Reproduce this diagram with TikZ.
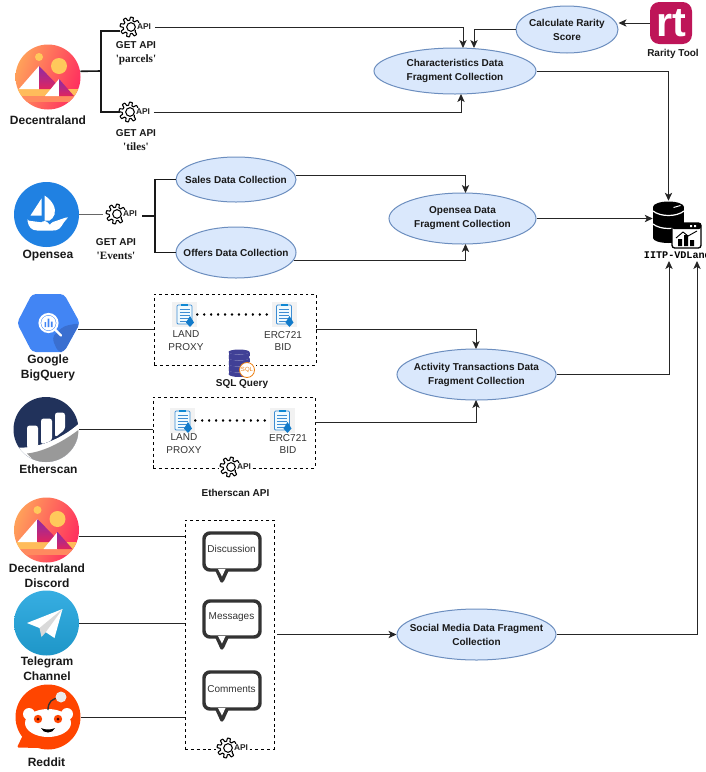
\documentclass[tikz,border=0pt]{standalone}
\usepackage{fontspec}
\setmainfont{Liberation Sans}
\newfontfamily\serifb{Liberation Serif}[Scale=1.12]
\newfontfamily\monob{Liberation Mono}
\usetikzlibrary{shapes.geometric,arrows.meta,calc}
\definecolor{ellfill}{HTML}{DAE8FC}
\definecolor{ellline}{HTML}{6C8EBF}
\definecolor{navy}{HTML}{21325B}
\definecolor{rtred}{HTML}{BE1558}
\definecolor{redditor}{HTML}{FF4500}
\definecolor{osblue}{HTML}{2081E2}
\definecolor{bqblue}{HTML}{4285F4}
\definecolor{bqdark}{HTML}{3A6FD0}
\definecolor{dcA}{HTML}{FFA25A}
\definecolor{dcB}{HTML}{FF2D5F}
\definecolor{dcSun}{HTML}{FFC95B}
\definecolor{dcBand}{HTML}{FFBC5B}
\definecolor{dcBandB}{HTML}{FF8A5F}
\definecolor{dcPa}{HTML}{8B2BA8}
\definecolor{dcPb}{HTML}{E0245E}
\definecolor{tgA}{HTML}{37AEE2}
\definecolor{tgB}{HTML}{1E96C8}
\tikzset{
  x=0.75pt,y=-0.75pt,
  ell/.style n args={3}{ellipse,draw=ellline,fill=ellfill,line width=0.75pt,inner sep=0pt,
    minimum width=#1*0.75pt,minimum height=#2*0.75pt,
    label={[font=\fontsize{7.5}{10.5}\selectfont\bfseries,align=center,inner sep=0pt,text=black!90]center:#3}},
  conn/.style={line width=0.75pt,black!85},
  arr/.style={conn,-{Stealth[length=6pt,width=5.5pt,inset=1.6pt]}},
  brk/.style={line width=1.2pt,black!90},
  lab/.style={font=\fontsize{9}{11}\selectfont\bfseries,align=center,inner sep=0pt,text=black!90},
  slab/.style={font=\fontsize{7.5}{10}\selectfont\bfseries,align=center,inner sep=0pt,text=black!90},
  reg/.style={font=\fontsize{7.5}{9.6}\selectfont,align=center,inner sep=0pt,text=black!80},
  dbox/.style={draw,dashed,line width=0.6pt,dash pattern=on 2.2pt off 2.2pt,inner sep=0pt},
  logo/.style={circle,inner sep=0pt,minimum size=#1*0.75pt},
  bubble/.style={draw=black!80,line width=2.6pt,rounded corners=4.5pt,fill=white},
  dots/.style={line width=1.9pt,line cap=round,dash pattern=on 0.01pt off 5.2pt,black},
  apit/.style={font=\fontsize{6.3}{7}\selectfont\bfseries,inner xsep=0.6pt,inner ysep=0.8pt,text=black!85,fill=white},
}
% gear + "API": #1 name, (#2,#3) gear centre
\newcommand{\gearapi}[3]{%
  \fill[white] (#2-11,#3-11) rectangle (#2+22,#3+11);
  \begin{scope}[shift={(#2,#3)}]
    \draw[line width=0.8pt,line join=round,fill=white] plot[domain=0:360,samples=129,smooth cycle] (\x:{8.3+1.6*tanh(4*sin(8*\x))});
    \draw[line width=0.8pt] (1,0) circle (4.3);
  \end{scope}
  \node[circle,inner sep=0pt,minimum size=15pt] (#1g) at (#2,#3) {};
  \node[apit,anchor=west] (#1) at (#2+6,#3) {API};
}
% document icon: #1 name, (#2,#3) centre
\newcommand{\docicon}[3]{%
  \node[fill=black!5,minimum size=18.75pt,inner sep=0pt] (#1) at (#2,#3) {};
  \begin{scope}[shift={(#2,#3)}]
    \draw[draw=cyan!60!blue!80,fill=cyan!6,line width=0.6pt,rounded corners=0.8pt] (-7.5,-9.5) rectangle (7.5,9.5);
    \fill[cyan!70!blue] (-3.5,-11) rectangle (3.5,-8.5);
    \foreach \yy in {-5.5,-2.5,0.5,3.5,6.5} \draw[cyan!60!blue!80,line width=0.5pt] (-5,\yy) -- (5,\yy);
    \fill[cyan!60!blue] (5.5,1.5) -- (9.5,8) -- (5.5,12.5) -- (1.5,8) -- cycle;
  \end{scope}
}
% Decentraland logo
\newcommand{\dclogo}[3]{%
  \begin{scope}[shift={(#2,#3)}]
    \begin{scope}
      \clip (0,0) circle (32.5);
      \shade[left color=dcA,right color=dcB,shading angle=70] (-33,-33) rectangle (33,33);
      \fill[dcSun] (-9,-20) circle (4);
      \fill[dcSun] (11,-11) circle (8);
      \fill[dcBand] (-33,12) rectangle (33,19);
      \fill[dcBandB] (-33,19) rectangle (33,25);
      \fill[white] (-9,-11) -- (-29,12) -- (-9,12) -- cycle;
      \shade[top color=dcPa,bottom color=dcPb] (-9,-11) -- (7,5.5) -- (11,12) -- (-9,12) -- cycle;
      \fill[white] (11,2) -- (-3,19) -- (11,19) -- cycle;
      \shade[top color=dcPa,bottom color=dcPb] (11,2) -- (26,19) -- (11,19) -- cycle;
    \end{scope}
  \end{scope}
  \node[logo=65] (#1) at (#2,#3) {};
}
\begin{document}
\begin{tikzpicture}
\useasboundingbox (0,0) rectangle (706,772);
\fill[white] (0,0) rectangle (706,772);

% ---------- ellipses
\node[ell={102}{47}{Calculate Rarity\\Score}] (rar) at (567,29.5) {};
\node[ell={162}{46}{Characteristics Data\\Fragment Collection}] (chr) at (455,71) {};
\node[ell={120}{45}{Sales Data Collection}] (sal) at (236,179.5) {};
\node[ell={120}{51}{Offers Data Collection}] (off) at (236,252.5) {};
\node[ell={147}{51}{Opensea Data\\Fragment Collection}] (osf) at (462.5,218.5) {};
\node[ell={159}{51}{Activity Transactions Data\\Fragment Collection}] (act) at (476.5,374.5) {};
\node[ell={159}{51}{Social Media Data Fragment\\Collection}] (soc) at (476.5,634.5) {};

% ---------- Decentraland row
\dclogo{dcl}{48}{77}
\node[lab] (dcllab) at (48,120) {Decentraland};
\gearapi{ga}{130}{27}
\gearapi{gb}{129}{112}
\coordinate (brkA) at (101,71);
\coordinate (gaL) at (120,31);
\coordinate (gbL) at (120,112);
\draw[brk] (dcl.10) -- (brkA);
\draw[brk] (gaL) -- (brkA |- gaL) -- (brkA |- gbL) -- (gbL);
\node[slab] at (136,53) {GET API\\[0.5pt]{\serifb 'parcels'}};
\node[slab] at (136,140) {GET API\\[0.5pt]{\serifb 'tiles'}};
\coordinate (chrTa) at (463,48);
\coordinate (chrTb) at (474,48);
\coordinate (chrB) at (461,94);
\draw[arr] ([xshift=2pt]ga.east) -- (ga.east -| chrTa) -- (chrTa);
\draw[arr] ([xshift=2pt]gb.east) -- (gb.east -| chrB) -- (chrB);
\draw[arr] (rar.west) -- (rar.west -| chrTb) -- (chrTb);

% ---------- Rarity tool
\node[fill=rtred,rounded corners=7pt,minimum size=31.5pt,inner sep=0pt,text=white,
      font=\fontsize{31}{31}\selectfont\bfseries] (rtl) at (671,23) {\raisebox{-1pt}{rt}};
\node[slab] at (673,54) {Rarity Tool};
\draw[arr] (rtl.west) -- (rar.east |- rtl.west);

% ---------- Opensea row
\begin{scope}[shift={(46.5,214.5)}]
  \fill[osblue] (0,0) circle (32.5);
  \fill[white] (-5,-16) -- (-16,1) -- (-5,1) -- cycle;
  \fill[white] (-2,-19) .. controls (6,-14) and (10,-6) .. (8,0) .. controls (7,3) and (5,5) .. (3,6) -- (-2,6) -- cycle;
  \fill[white,rounded corners=1pt] (-19,6) -- (-4,8) -- (-3,6) -- (2,8) -- (3,11) -- (5,8) -- (21,2.5) -- (21,4) .. controls (16,8) and (15,15) .. (8,16) -- (-8,16) .. controls (-15,16) and (-18,12) .. cycle;
\end{scope}
\node[logo=65] (osl) at (46.5,214.5) {};
\node[lab] at (48,255.5) {Opensea};
\gearapi{gc}{116}{214}
\node[slab] at (116,249.5) {GET API\\[0.5pt]{\serifb 'Events'}};
\coordinate (brkB) at (155,216);
\draw[conn,black!60] (osl.east) -- ([xshift=-2pt]gcg.west |- osl.east);
\draw[brk] ([xshift=3pt]gc.east |- brkB) -- (brkB);
\draw[brk] (sal.west) -- (sal.west -| brkB) -- (off.west -| brkB) -- (off.west);
\coordinate (osfT) at (465.5,193);
\coordinate (osfB) at (465.5,244);
\draw[arr] (sal.4.3) -- (sal.4.3 -| osfT) -- (osfT);
\draw[arr] (off.-8.5) -- (off.-8.5 -| osfB) -- (osfB);

% ---------- database
\begin{scope}[shift={(668.5,0)}]
  \fill[black] (-15.5,207) rectangle (15.5,238);
  \fill[black] (0,207) ellipse (15.5 and 5.5);
  \fill[black] (0,238) ellipse (15.5 and 5);
  \draw[white,line width=0.9pt] (-15.5,211) .. controls (-8,217) and (8,217) .. (15.5,211);
  \draw[white,line width=0.9pt] (-15.5,224) .. controls (-8,230) and (8,230) .. (15.5,224);
  \draw[white,line width=0.7pt] (5,207.5) -- (12,205.5);
\end{scope}
\node[inner sep=0pt,minimum width=23.25pt,minimum height=31.5pt] (db) at (668.5,222) {};
\draw[black,fill=white,line width=1pt,rounded corners=2pt] (672,223) rectangle (701,248);
\fill[black,rounded corners=1.5pt] (672,223) rectangle (701,229);
\fill[white] (690,225) rectangle (692,227) (694,225) rectangle (696,227);
\fill[black] (678,239) rectangle (682,246) (684,235) rectangle (688,246) (690,240) rectangle (694,246);
\draw[line width=0.7pt] (676,238) -- (683,232) -- (688,236) -- (697,231);
\node[fill=white,inner sep=0.5pt,anchor=west,font=\fontsize{7.6}{8}\selectfont\monob\bfseries] (iitp) at (643,255) {IITP-VDLand};
\draw[arr] (chr.east) -- (chr.east -| db.north) -- (db.north);
\draw[arr] (osf.east) -- (db.west |- osf.east);
\coordinate (dbA) at (669,261);
\coordinate (dbB) at (697,261);
\draw[arr] (act.east) -- (act.east -| dbA) -- (dbA);
\draw[arr] (soc.east) -- (soc.east -| dbB) -- (dbB);

% ---------- BigQuery
\fill[bqblue,rounded corners=3pt] (17,323) -- (32,294) -- (64,294) -- (80,323) -- (64,352) -- (32,352) -- cycle;
\fill[bqdark,rounded corners=3pt] (56,333) -- (64,326) -- (80,323) -- (64,352) -- (58,352) -- (52,338) -- cycle;
\draw[white,line width=1.6pt] (48.5,323) circle (9);
\fill[white] (48.5,323) circle (7.3);
\fill[bqblue] (44.5,322) rectangle (46.2,327) (47.6,318.5) rectangle (49.4,327) (50.8,321.5) rectangle (52.5,327);
\draw[white,line width=1.8pt,line cap=round] (55.5,330) -- (61,335.5);
\node[inner sep=0pt,minimum width=47pt,minimum height=43.5pt] (bq) at (48.5,323) {};
\node[lab] at (48,368) {Google\\BigQuery};

\node[dbox,minimum width=121.5pt,minimum height=53.25pt] (boxa) at (235,329.5) {};
\docicon{da}{184.5}{314.5}
\docicon{db2}{284}{314.5}
\draw[dots] (da.east) -- (db2.west);
\node[reg] at (186,341) {LAND\\PROXY};
\node[reg] at (283,341) {ERC721\\BID};
% SQL stack
\begin{scope}[shift={(239,0)}]
  \fill[white] (-14,350) rectangle (17,378);
  \foreach \yy in {372,366,360,354} {
    \fill[blue!45!black!75] (-10.5,\yy-2) rectangle (10.5,\yy+2);
    \fill[blue!45!black!75] (0,\yy+2) ellipse (10.5 and 3);
    \draw[white,line width=0.4pt] (-10.5,\yy-2) .. controls (-5,\yy+1) and (5,\yy+1) .. (10.5,\yy-2);
    \fill[blue!45!black!75] (0,\yy-2) ellipse (10.5 and 2.5);
  }
\end{scope}
\draw[orange!70!brown,fill=white,line width=0.6pt] (247,370) circle (7.5);
\node[font=\fontsize{4.5}{5}\selectfont,text=orange!70!brown,inner sep=0pt] at (247,370) {SQL};
\node[slab] at (242,384.5) {SQL Query};
\draw[conn] (bq.east |- boxa.west) -- ++(-2,0) -- (boxa.west);
\coordinate (actT) at (476,349);
\draw[arr] (boxa.east) -- (boxa.east -| actT) -- (actT);

% ---------- Etherscan
\begin{scope}[shift={(46,429.5)}]
  \begin{scope}
    \clip (0,0) circle (32.5);
    \fill[navy] (-33,-33) rectangle (33,33);
    \fill[white] (-33,18) .. controls (-10,20) and (15,10) .. (33,-6) -- (33,33) -- (-33,33) -- cycle;
    \fill[black!40] (-19,24) .. controls (0,22) and (20,10) .. (33,0) -- (33,33) -- (-10,33) -- cycle;
  \end{scope}
  \fill[white,rounded corners=2pt] (-19,19) -- (-19,-4) -- (-8,-4) -- (-8,18) -- cycle;
  \fill[white,rounded corners=2pt] (-5,15) -- (-5,-11) -- (6,-11) -- (6,11) -- cycle;
  \fill[white,rounded corners=2pt] (9,8) -- (9,-17) -- (19,-17) -- (19,0) -- cycle;
\end{scope}
\node[logo=65] (esl) at (46,429.5) {};
\node[lab] at (48.5,469) {Etherscan};
\node[dbox,minimum width=121.5pt,minimum height=53.25pt] (boxb) at (234,432.5) {};
\docicon{dc}{182.5}{420.5}
\docicon{dd}{282}{420.5}
\draw[dots] (dc.east) -- (dd.west);
\node[reg] at (184,444) {LAND\\PROXY};
\node[reg] at (288,444) {ERC721\\BID};
\gearapi{ge}{230}{467}
\node[slab] at (235.5,493) {Etherscan API};
\draw[conn] (esl.east) -- (boxb.west |- esl.east);
\coordinate (boxbR) at (315,422);
\coordinate (actB) at (476,400);
\draw[arr] (boxbR) -- (boxbR -| actB) -- (actB);

% ---------- Social row
\dclogo{ddl}{46.5}{530}
\node[lab] at (47,575.5) {Decentraland\\Discord};
\shade[top color=tgA,bottom color=tgB] (46.5,623) circle (32.5);
\begin{scope}[shift={(46.5,623)}]
  \fill[white] (16,-14) -- (-19.5,0) -- (-7,5) -- (8,15) -- cycle;
  \fill[black!15] (16,-14) -- (-7,5) -- (-5,14) -- (-1,9.5) -- cycle;
\end{scope}
\node[logo=65] (tgl) at (46.5,623) {};
\node[lab] at (47,669) {Telegram\\Channel};
% Reddit
\begin{scope}[shift={(48,717)}]
  \fill[redditor] (0,0) circle (32.5);
  \fill[redditor,rounded corners=1pt] (-25,18) -- (-31,30.5) -- (-8,31) -- cycle;
  \fill[white] (-19,-3) circle (6) (19,-3) circle (6);
  \fill[white] (0,6) ellipse (23 and 14);
  \draw[black!80,line width=1pt] (0,-7) .. controls (0,-15) and (4,-19) .. (12,-19);
  \fill[white!92!black] (13,-20) circle (5.5);
  \fill[redditor] (-10,2) circle (4.2) (10,2) circle (4.2);
  \fill[black!70!red] (-10,2) circle (1.5) (10,2) circle (1.5);
  \fill[black] (-7,11) .. controls (-3,13) and (3,13) .. (7,11) .. controls (5,17) and (-5,17) .. (-7,11) -- cycle;
\end{scope}
\node[logo=65] (rdl) at (48,717) {};
\node[lab] at (46.5,762) {Reddit};

\node[dbox,minimum width=66.75pt,minimum height=171.75pt] (boxc) at (229.5,634.5) {};
\draw[bubble] (204,533) rectangle (260,570);
\draw[bubble] (204,601) rectangle (260,637);
\draw[bubble] (204,672) rectangle (260,709);
\foreach \yy in {570,637,709} {
  \fill[black!80] (215,\yy) -- (220.5,\yy+12) .. controls (221.5,\yy+13) and (223,\yy+13) .. (224,\yy+11) -- (229,\yy) -- cycle;
  \fill[white] (218,\yy-1) -- (222,\yy+6.5) -- (225.5,\yy-1) -- cycle;
}
\node[reg] (bua) at (231.5,548.5) {Discussion};
\node[reg] (bub) at (231.5,617) {Messages};
\node[reg] (buc) at (231.5,689.5) {Comments};
\gearapi{gf}{227}{748}
\draw[conn] (ddl.-12) -- (ddl.-12 -| boxc.west);
\draw[conn] (tgl.east) -- (tgl.east -| boxc.west);
\draw[conn] (rdl.east) -- (rdl.east -| boxc.west);
\draw[arr] ([xshift=2pt]boxc.east |- soc.west) -- (soc.west);
\end{tikzpicture}
\end{document}
